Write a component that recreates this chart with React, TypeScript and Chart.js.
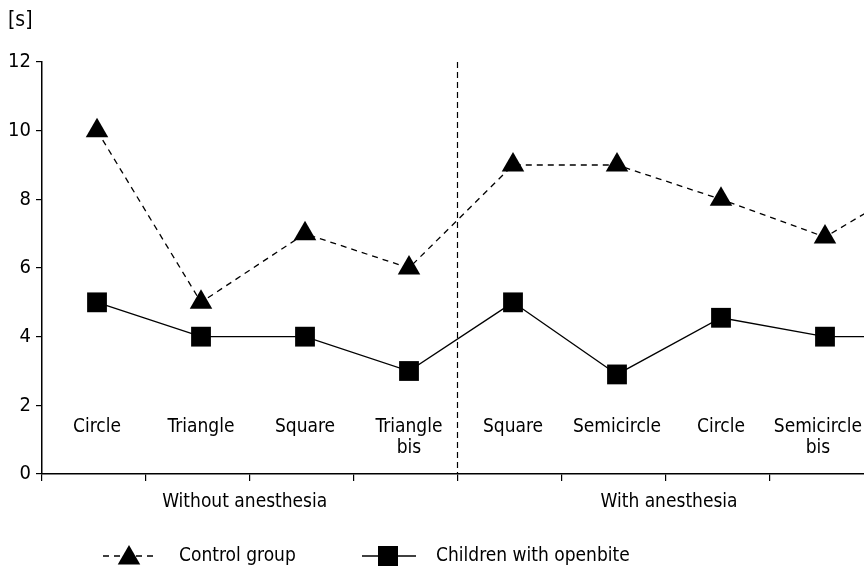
import { useEffect, useRef } from "react";
import { Chart, registerables } from "chart.js";

Chart.register(...registerables);

// ---- data ----
const categories: string[][] = [
  ["Circle"],
  ["Triangle"],
  ["Square"],
  ["Triangle", "bis"],
  ["Square"],
  ["Semicircle"],
  ["Circle"],
  ["Semicircle", "bis"],
];
const groups = ["Without anesthesia", "With anesthesia"];
const seriesNames = ["Control group", "Children with openbite"];
// the 9th value lies beyond the cropped right edge of the reference
const controlGroup = [10, 5, 7, 6, 9, 9, 8, 6.9, 8.7];
const openbite = [5, 4, 4, 3, 5, 2.9, 4.55, 4, 4];
const yTicks = [0, 2, 4, 6, 8, 10, 12];
const yUnit = "[s]";

// ---- layout / style constants ----
const FONT_FAMILY = '"Liberation Sans Narrow", "DejaVu Sans Condensed", "Roboto", sans-serif';
const FONT_SIZE = 19;
const X_MIN = -0.529;
const X_MAX = 7.375;
const SEPARATOR = 3.46;
const GROUP_CENTERS = [1.42, 5.5];

function drawTriangle(ctx: CanvasRenderingContext2D, x: number, y: number, r: number) {
  ctx.beginPath();
  ctx.moveTo(x, y - r);
  ctx.lineTo(x + 0.866 * r, y + 0.5 * r);
  ctx.lineTo(x - 0.866 * r, y + 0.5 * r);
  ctx.closePath();
  ctx.fill();
}

const annotPlugin = {
  id: "annot",
  beforeDatasetsDraw(chart: any) {
    const { ctx, chartArea, scales } = chart;
    const x = scales.x;
    ctx.save();
    ctx.strokeStyle = "#000";
    ctx.lineWidth = 1.2;
    ctx.setLineDash([6, 4]);
    const sx = Math.round(x.getPixelForValue(SEPARATOR)) + 0.5;
    ctx.beginPath();
    ctx.moveTo(sx, chartArea.top);
    ctx.lineTo(sx, chartArea.bottom);
    ctx.stroke();
    ctx.restore();
  },
  afterDraw(chart: any) {
    const { ctx, chartArea, scales, width } = chart;
    const x = scales.x;
    ctx.save();
    ctx.fillStyle = "#000";
    ctx.font = `${FONT_SIZE}px ${FONT_FAMILY}`;
    ctx.textAlign = "center";
    ctx.textBaseline = "alphabetic";
    categories.forEach((lines, i) => {
      let px = x.getPixelForValue(i);
      const maxW = Math.max(...lines.map((t) => ctx.measureText(t).width));
      if (px + maxW / 2 > width - 2) px = width - 2 - maxW / 2;
      lines.forEach((t, j) => ctx.fillText(t, px, chartArea.bottom - 42 + j * 21));
    });
    groups.forEach((g, i) => {
      ctx.fillText(g, x.getPixelForValue(GROUP_CENTERS[i]), chartArea.bottom + 33);
    });
    // unit label
    ctx.font = `21px ${FONT_FAMILY}`;
    ctx.textAlign = "left";
    ctx.textBaseline = "middle";
    ctx.fillText(yUnit, 8, 21);

    // legend
    ctx.font = `${FONT_SIZE}px ${FONT_FAMILY}`;
    const ly = 556;
    ctx.strokeStyle = "#000";
    ctx.lineWidth = 1.3;
    ctx.setLineDash([6, 5]);
    ctx.beginPath();
    ctx.moveTo(103, ly);
    ctx.lineTo(158, ly);
    ctx.stroke();
    ctx.setLineDash([]);
    drawTriangle(ctx, 129, ly + 2, 13);
    ctx.fillText(seriesNames[0], 179, ly);

    ctx.beginPath();
    ctx.moveTo(362, ly);
    ctx.lineTo(416, ly);
    ctx.stroke();
    ctx.fillRect(378, ly - 10, 20, 20);
    ctx.fillText(seriesNames[1], 436, ly);
    ctx.restore();
  },
};

export default function App() {
  const ref = useRef<HTMLCanvasElement>(null);
  useEffect(() => {
    if (!ref.current) return;
    const chart = new Chart(ref.current, {
      type: "line",
      data: {
        datasets: [
          {
            label: seriesNames[0],
            data: controlGroup.map((v, i) => ({ x: i, y: v })),
            borderColor: "#000",
            backgroundColor: "#000",
            borderWidth: 1.3,
            borderDash: [6, 5],
            pointStyle: "triangle",
            pointRadius: 13,
            pointBorderWidth: 0,
            pointBackgroundColor: "#000",
            tension: 0,
          },
          {
            label: seriesNames[1],
            data: openbite.map((v, i) => ({ x: i, y: v })),
            borderColor: "#000",
            backgroundColor: "#000",
            borderWidth: 1.3,
            pointStyle: "rect",
            pointRadius: 14,
            pointBorderWidth: 0,
            pointBackgroundColor: "#000",
            tension: 0,
          },
        ],
      },
      options: {
        animation: false,
        responsive: false,
        layout: { autoPadding: false, padding: { top: 62, right: 0, bottom: 0, left: 0 } },
        plugins: {
          legend: { display: false },
          tooltip: { enabled: false },
          title: { display: false },
        },
        scales: {
          x: {
            type: "linear",
            min: X_MIN,
            max: X_MAX,
            afterBuildTicks: (scale: any) => {
              scale.ticks = categories.map((_, k) => ({ value: X_MIN + k }));
            },
            afterFit: (scale: any) => {
              scale.height = 97;
              scale.paddingLeft = 0;
              scale.paddingRight = 0;
            },
            ticks: { display: false },
            grid: { drawOnChartArea: false, drawTicks: true, tickLength: 7, color: "#000", lineWidth: 1.2 },
            border: { display: true, color: "#000", width: 1.5 },
          },
          y: {
            type: "linear",
            min: 0,
            max: 12,
            afterBuildTicks: (scale: any) => {
              scale.ticks = yTicks.map((v) => ({ value: v }));
            },
            afterFit: (scale: any) => {
              scale.width = 42;
            },
            ticks: {
              color: "#000",
              padding: 5,
              font: { family: FONT_FAMILY, size: 20 },
            },
            grid: { drawOnChartArea: false, drawTicks: true, tickLength: 6, color: "#000", lineWidth: 1.2 },
            border: { display: true, color: "#000", width: 1.5 },
          },
        },
      },
      plugins: [annotPlugin],
    });
    return () => chart.destroy();
  }, []);
  return (
    <div style={{ position: "absolute", left: 0, top: 0, width: 864, height: 571, background: "#fff" }}>
      <canvas ref={ref} width={864} height={571} style={{ display: "block" }} />
    </div>
  );
}
